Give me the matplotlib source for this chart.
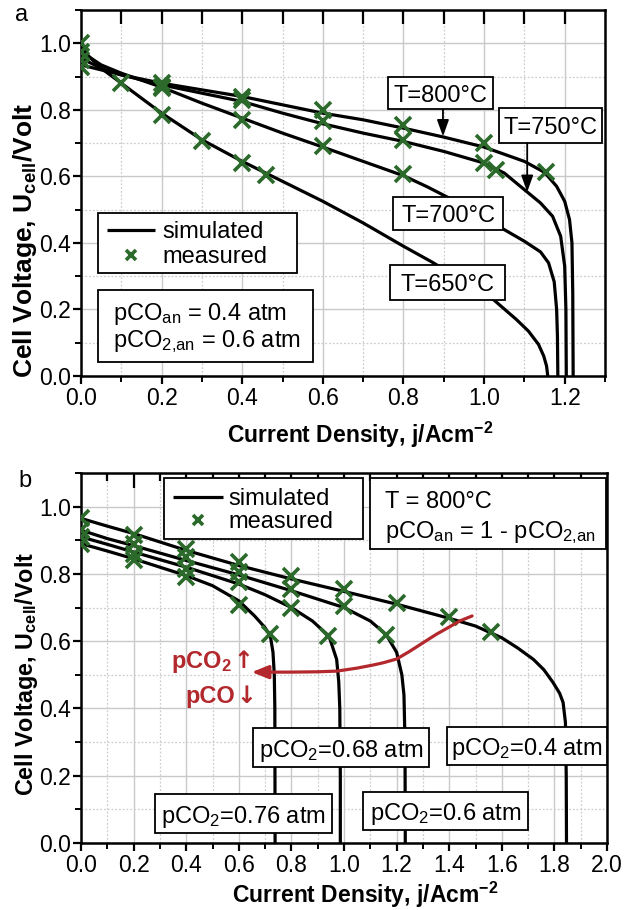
import matplotlib
matplotlib.use("Agg")
import matplotlib.pyplot as plt
from matplotlib.ticker import MultipleLocator, FormatStrFormatter
from matplotlib.patches import Rectangle

plt.rcParams["font.family"] = ["Liberation Sans", "DejaVu Sans"]
plt.rcParams["mathtext.fontset"] = "custom"
plt.rcParams["mathtext.rm"] = "Liberation Sans"
plt.rcParams["mathtext.it"] = "Liberation Sans:italic"
plt.rcParams["mathtext.bf"] = "Liberation Sans:bold"

GREEN = "#2b6a2b"
RED = "#b3282c"

# ---------------- panel a: temperature variation ----------------
temps = ["T=650°C", "T=700°C", "T=750°C", "T=800°C"]

sim_j_650 = [0, 0.02, 0.05, 0.1, 0.2, 0.3, 0.4, 0.5, 0.6, 0.7, 0.8, 0.87, 0.95, 1.02, 1.08, 1.11, 1.135, 1.148, 1.155, 1.158]
sim_v_650 = [0.99, 0.96, 0.925, 0.88, 0.79, 0.71, 0.645, 0.585, 0.525, 0.46, 0.39, 0.343, 0.285, 0.233, 0.17, 0.135, 0.095, 0.06, 0.03, 0.0]
sim_j_700 = [0, 0.05, 0.1, 0.2, 0.3, 0.4, 0.5, 0.6, 0.7, 0.8, 0.86, 0.95, 1.04, 1.1, 1.14, 1.16, 1.174, 1.18, 1.182, 1.183]
sim_v_700 = [0.975, 0.935, 0.91, 0.868, 0.82, 0.775, 0.73, 0.688, 0.645, 0.602, 0.568, 0.512, 0.447, 0.405, 0.373, 0.34, 0.283, 0.2, 0.12, 0.0]
sim_j_750 = [0, 0.05, 0.1, 0.2, 0.3, 0.4, 0.5, 0.6, 0.7, 0.8, 0.9, 1.0, 1.05, 1.1, 1.14, 1.17, 1.19, 1.2, 1.203, 1.204]
sim_v_750 = [0.955, 0.925, 0.905, 0.875, 0.85, 0.825, 0.79, 0.758, 0.73, 0.705, 0.675, 0.64, 0.61, 0.56, 0.52, 0.48, 0.42, 0.33, 0.2, 0.0]
sim_j_800 = [0, 0.05, 0.1, 0.2, 0.3, 0.4, 0.5, 0.6, 0.7, 0.8, 0.9, 1.0, 1.1, 1.15, 1.18, 1.2, 1.212, 1.218, 1.22, 1.221]
sim_v_800 = [0.935, 0.92, 0.905, 0.88, 0.86, 0.84, 0.815, 0.79, 0.77, 0.745, 0.718, 0.688, 0.645, 0.612, 0.57, 0.525, 0.47, 0.4, 0.25, 0.0]

meas_j_650 = [0, 0.1, 0.2, 0.3, 0.4, 0.46]
meas_v_650 = [1.0, 0.88, 0.785, 0.705, 0.64, 0.603]
meas_j_700 = [0, 0.2, 0.4, 0.6, 0.8]
meas_v_700 = [0.975, 0.865, 0.77, 0.69, 0.606]
meas_j_750 = [0, 0.2, 0.4, 0.6, 0.8, 1.0, 1.03]
meas_v_750 = [0.95, 0.87, 0.83, 0.765, 0.71, 0.64, 0.62]
meas_j_800 = [0, 0.2, 0.4, 0.6, 0.8, 1.0, 1.153]
meas_v_800 = [0.93, 0.88, 0.84, 0.80, 0.755, 0.70, 0.612]

# ---------------- panel b: gas composition variation ----------------
pco2_labels = ["pCO$_\\mathregular{2}$=0.4 atm", "pCO$_\\mathregular{2}$=0.6 atm",
               "pCO$_\\mathregular{2}$=0.68 atm", "pCO$_\\mathregular{2}$=0.76 atm"]

sim_j_040 = [0, 0.1, 0.2, 0.4, 0.6, 0.8, 1.0, 1.2, 1.4, 1.5, 1.6, 1.66, 1.72, 1.76, 1.795, 1.82, 1.833, 1.842, 1.845, 1.846]
sim_v_040 = [0.965, 0.942, 0.92, 0.87, 0.825, 0.785, 0.748, 0.71, 0.668, 0.645, 0.61, 0.58, 0.546, 0.515, 0.477, 0.445, 0.418, 0.358, 0.2, 0.0]
sim_j_060 = [0, 0.1, 0.2, 0.4, 0.6, 0.8, 1.0, 1.1, 1.16, 1.2, 1.22, 1.228, 1.232, 1.233]
sim_v_060 = [0.93, 0.905, 0.884, 0.84, 0.797, 0.75, 0.70, 0.66, 0.62, 0.567, 0.5, 0.44, 0.3, 0.0]
sim_j_068 = [0, 0.1, 0.2, 0.4, 0.6, 0.7, 0.8, 0.88, 0.943, 0.972, 0.98, 0.984, 0.986, 0.986]
sim_v_068 = [0.91, 0.888, 0.865, 0.82, 0.77, 0.738, 0.70, 0.66, 0.615, 0.546, 0.48, 0.4, 0.2, 0.0]
sim_j_076 = [0, 0.1, 0.2, 0.4, 0.5, 0.6, 0.66, 0.7, 0.72, 0.73, 0.735, 0.737, 0.738]
sim_v_076 = [0.89, 0.868, 0.845, 0.795, 0.765, 0.72, 0.675, 0.64, 0.615, 0.567, 0.5, 0.4, 0.0]

meas_j_040 = [0, 0.2, 0.4, 0.6, 0.8, 1.0, 1.2, 1.4, 1.56]
meas_v_040 = [0.965, 0.915, 0.875, 0.835, 0.795, 0.755, 0.713, 0.672, 0.627]
meas_j_060 = [0, 0.2, 0.4, 0.6, 0.8, 1.0, 1.16]
meas_v_060 = [0.93, 0.89, 0.85, 0.805, 0.755, 0.705, 0.618]
meas_j_068 = [0, 0.2, 0.4, 0.6, 0.8, 0.94]
meas_v_068 = [0.91, 0.86, 0.815, 0.775, 0.70, 0.615]
meas_j_076 = [0, 0.2, 0.4, 0.6, 0.72]
meas_v_076 = [0.89, 0.84, 0.79, 0.708, 0.62]

# trend arrow (increasing pCO2 / decreasing pCO)
trend_j = [1.487, 1.44, 1.40, 1.35, 1.30, 1.25, 1.20, 1.15, 1.11, 1.05, 0.973, 0.90, 0.795, 0.70]
trend_v = [0.675, 0.66, 0.642, 0.62, 0.595, 0.57, 0.547, 0.536, 0.529, 0.52, 0.511, 0.509, 0.508, 0.508]

FS = 16.5
LW = 2.3
MS = 11
MEW = 2.6

fig = plt.figure(figsize=(6.4, 9.1), dpi=100, facecolor="white")
W, H = 640.0, 910.0


def px_axes(l, t, r, b):
    return [l / W, 1 - b / H, (r - l) / W, (b - t) / H]


axa = fig.add_axes(px_axes(81, 10, 605, 376))
axb = fig.add_axes(px_axes(81, 473, 607, 843))


def style(ax, xmax, top_major_px, top_minor_px):
    ax.set_xlim(0, xmax)
    ax.set_ylim(0, 1.1)
    for axis in (ax.xaxis, ax.yaxis):
        axis.set_major_locator(MultipleLocator(0.2))
        axis.set_minor_locator(MultipleLocator(0.1))
        axis.set_major_formatter(FormatStrFormatter("%.1f"))
    ax.grid(which="major", color="#c9c9c9", lw=1.0, ls="-")
    ax.grid(which="minor", color="#cdcdcd", lw=0.9, ls=(0, (1.5, 1.5)))
    ax.set_axisbelow(True)
    for s in ax.spines.values():
        s.set_linewidth(1.8)
    ax.tick_params(which="major", direction="out", length=6, width=1.6,
                   labelsize=FS, pad=2, right=False, top=False)
    ax.tick_params(which="minor", direction="out", length=4, width=1.4,
                   right=False, top=False)
    ax.tick_params(axis="y", which="major", pad=1)
    # inward tick marks along the top edge (bottom edge keeps outward ticks)
    h_px = ax.get_position().height * H
    xform = ax.get_xaxis_transform()
    major = [t for t in MultipleLocator(0.2).tick_values(0, xmax) if 0 < t < xmax]
    minor = [t for t in MultipleLocator(0.1).tick_values(0, xmax)
             if 0 < t < xmax and all(abs(t - m) > 1e-6 for m in major)]
    ax.vlines(major, 1 - top_major_px / h_px, 1, transform=xform, colors="black",
              lw=1.6, zorder=2.5)
    ax.vlines(minor, 1 - top_minor_px / h_px, 1, transform=xform, colors="black",
              lw=1.6, zorder=2.5)


style(axa, 1.3, 14, 14)
style(axb, 2.0, 15, 8)


def draw_box(ax, x0, x1, y0, y1, transform=None, lw=1.3):
    tr = ax.transData if transform is None else transform
    ax.add_patch(Rectangle((x0, y0), x1 - x0, y1 - y0, transform=tr,
                           fc="white", ec="black", lw=lw, zorder=6))


# ---- panel a curves ----
sims_a = [(sim_j_650, sim_v_650), (sim_j_700, sim_v_700), (sim_j_750, sim_v_750), (sim_j_800, sim_v_800)]
meas_a = [(meas_j_650, meas_v_650), (meas_j_700, meas_v_700), (meas_j_750, meas_v_750), (meas_j_800, meas_v_800)]
for i, (j, v) in enumerate(sims_a):
    axa.plot(j, v, color="black", lw=LW, zorder=3, solid_capstyle="butt",
             label="simulated" if i == 0 else None)
for i, (j, v) in enumerate(meas_a):
    axa.plot(j, v, ls="none", marker="x", ms=MS, mew=MEW, color=GREEN, zorder=4,
             label="measured" if i == 0 else None)

# temperature tags
tag_boxes_a = {
    "T=800°C": (0.762, 1.022, 0.802, 0.899),
    "T=750°C": (1.037, 1.293, 0.700, 0.806),
    "T=700°C": (0.774, 1.047, 0.439, 0.538),
    "T=650°C": (0.767, 1.052, 0.228, 0.334),
}
for name in temps:
    x0, x1, y0, y1 = tag_boxes_a[name]
    draw_box(axa, x0, x1, y0, y1)
    axa.text((x0 + x1) / 2, (y0 + y1) / 2, name, ha="center", va="center_baseline",
             fontsize=17, zorder=7)

arrow_kw = dict(arrowstyle="-|>,head_length=0.5,head_width=0.18", color="black",
                lw=1.3, shrinkA=0, shrinkB=0, mutation_scale=20)
axa.annotate("", xy=(0.898, 0.72), xytext=(0.898, 0.802), arrowprops=arrow_kw, zorder=7)
axa.annotate("", xy=(1.107, 0.553), xytext=(1.107, 0.700), arrowprops=arrow_kw, zorder=7)

# legend and condition box
draw_box(axa, 0.032, 0.412, 0.281, 0.445, transform=axa.transAxes)
leg = axa.legend(loc="upper left", bbox_to_anchor=(0.0496, 0.4235), borderaxespad=0,
                 borderpad=0, frameon=False, fontsize=17, handlelength=2.05,
                 handletextpad=0.3, labelspacing=0.14, markerscale=0.6)
leg.set_zorder(8)
draw_box(axa, 0.032, 0.443, 0.038, 0.235, transform=axa.transAxes)
axa.text(0.061, 0.153, "pCO$_\\mathregular{an}$ = 0.4 atm", transform=axa.transAxes,
         fontsize=17, va="baseline", zorder=7)
axa.text(0.061, 0.079, "pCO$_\\mathregular{2{,}an}$ = 0.6 atm", transform=axa.transAxes,
         fontsize=17, va="baseline", zorder=7)

# ---- panel b curves ----
sims_b = [(sim_j_040, sim_v_040), (sim_j_060, sim_v_060), (sim_j_068, sim_v_068), (sim_j_076, sim_v_076)]
meas_b = [(meas_j_040, meas_v_040), (meas_j_060, meas_v_060), (meas_j_068, meas_v_068), (meas_j_076, meas_v_076)]
for i, (j, v) in enumerate(sims_b):
    axb.plot(j, v, color="black", lw=LW, zorder=3, solid_capstyle="butt",
             label="simulated" if i == 0 else None)
for i, (j, v) in enumerate(meas_b):
    axb.plot(j, v, ls="none", marker="x", ms=MS, mew=MEW, color=GREEN, zorder=4,
             label="measured" if i == 0 else None)

# trend arrow and its labels
axb.plot(trend_j, trend_v, color=RED, lw=2.3, zorder=5, solid_capstyle="round")
axb.annotate("", xy=(0.649, trend_v[-1]), xytext=(trend_j[-1], trend_v[-1]),
             arrowprops=dict(arrowstyle="-|>,head_length=0.5,head_width=0.2",
                             color=RED, lw=2.3, shrinkA=0, shrinkB=0, mutation_scale=20),
             zorder=5)
axb.text(0.574, 0.520, "pCO$_\\mathregular{2}$", color=RED, fontsize=17, fontweight="bold",
         ha="right", va="baseline", zorder=7)
axb.text(0.586, 0.416, "pCO", color=RED, fontsize=17, fontweight="bold",
         ha="right", va="baseline", zorder=7)
axb.text(0.617, 0.520, "↑", color=RED, fontsize=17, fontweight="bold",
         family=["DejaVu Sans"], ha="center", va="baseline", zorder=7)
axb.text(0.630, 0.416, "↓", color=RED, fontsize=17, fontweight="bold",
         family=["DejaVu Sans"], ha="center", va="baseline", zorder=7)

tag_boxes_b = [
    (1.392, 2.0, 0.232, 0.345),
    (1.072, 1.700, 0.039, 0.152),
    (0.654, 1.323, 0.226, 0.342),
    (0.281, 0.954, 0.030, 0.146),
]
for name, (x0, x1, y0, y1) in zip(pco2_labels, tag_boxes_b):
    draw_box(axb, x0, x1, y0, y1)
    axb.text((x0 + x1) / 2, (y0 + y1) / 2, name, ha="center", va="center_baseline",
             fontsize=17, zorder=7)

draw_box(axb, 0.158, 0.536, 0.822, 0.986, transform=axb.transAxes)
legb = axb.legend(loc="upper left", bbox_to_anchor=(0.175, 0.959), borderaxespad=0,
                  borderpad=0, frameon=False, fontsize=17, handlelength=2.1,
                  handletextpad=0.25, labelspacing=0.05, markerscale=0.6)
legb.set_zorder(8)
draw_box(axb, 0.549, 0.998, 0.795, 0.986, transform=axb.transAxes)
axb.text(0.578, 0.905, "T = 800°C", transform=axb.transAxes, fontsize=17,
         va="baseline", zorder=7)
axb.text(0.578, 0.824, "pCO$_\\mathregular{an}$ = 1 - pCO$_\\mathregular{2{,}an}$",
         transform=axb.transAxes, fontsize=17, va="baseline", zorder=7)

# axis titles and panel letters
ylab = "Cell Voltage, U$_\\mathregular{cell}$/Volt"
xlab = "Current Density, j/Acm$^\\mathregular{-2}$"
fig.text(25 / W, 1 - 240 / H, ylab, rotation=90, ha="center", va="center",
         fontsize=19, fontweight="bold")
fig.text(27 / W, 1 - 674 / H, ylab, rotation=90, ha="center", va="center",
         fontsize=16.8, fontweight="bold")
fig.text(360 / W, 1 - 443 / H, xlab, ha="center", va="baseline", fontsize=FS, fontweight="bold")
fig.text(365 / W, 1 - 903 / H, xlab, ha="center", va="baseline", fontsize=FS, fontweight="bold")
fig.text(22 / W, 1 - 15 / H, "a", ha="center", va="center", fontsize=17)
fig.text(25 / W, 1 - 481 / H, "b", ha="center", va="center", fontsize=17)

fig.savefig("out.png", dpi=100, facecolor="white")
